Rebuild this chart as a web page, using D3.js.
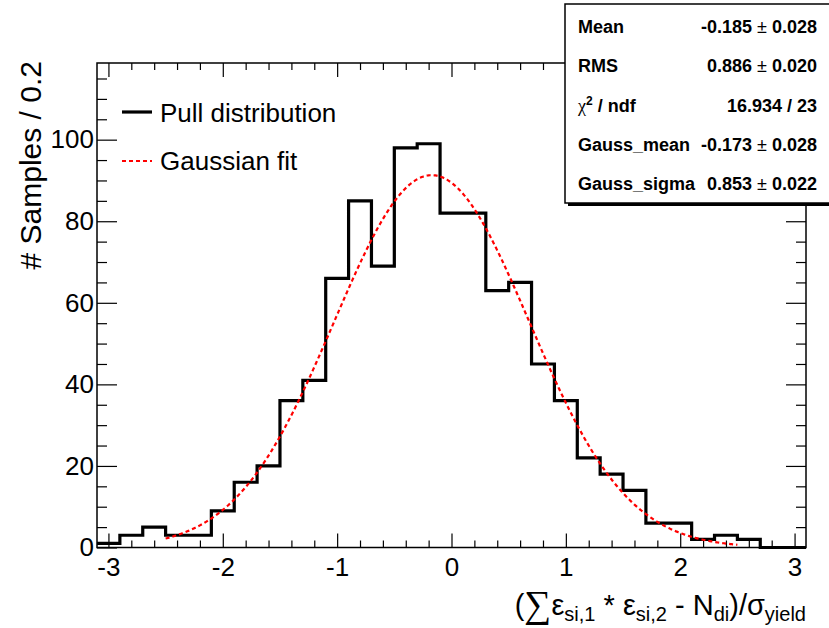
<!DOCTYPE html>
<html>
<head>
<meta charset="utf-8">
<script src="https://cdn.jsdelivr.net/npm/d3@7"></script>
<style>
  body { margin: 0; background: #fff; }
  svg { display: block; }
  text { font-family: "Liberation Sans", Arial, Helvetica, sans-serif; fill: #000; }
</style>
</head>
<body>
<svg id="chart" width="829" height="628"></svg>
<script>
// Pull distribution: bin centres (width 0.2) and counts per bin
const binCenters = [-3.0, -2.8, -2.6, -2.4, -2.2, -2.0, -1.8, -1.6, -1.4, -1.2, -1.0,
                    -0.8, -0.6, -0.4, -0.2, 0.0, 0.2, 0.4, 0.6, 0.8, 1.0, 1.2,
                    1.4, 1.6, 1.8, 2.0, 2.2, 2.4, 2.6, 2.8, 3.0];
const counts = [1, 3, 5, 3, 3, 9, 16, 20, 36, 41, 66,
                85, 69, 98, 99, 82, 82, 63, 65, 45, 36, 22,
                18, 14, 6, 6, 2, 3, 2, 0, 0];
const binWidth = 0.2;

// Axis ticks
const xTicks = [-3, -2, -1, 0, 1, 2, 3];
const yTicks = [0, 20, 40, 60, 80, 100];

// Statistics box
const statLabels = ["Mean", "RMS", "chi2", "Gauss_mean", "Gauss_sigma"];
const statValues = ["-0.185", "0.886", "16.934 / 23", "-0.173", "0.853"];
const statErrors = ["0.028", "0.020", null, "0.028", "0.022"];

// Gaussian fit parameters
const gaussConstant = 91.3;
const gaussMean = -0.173;
const gaussSigma = 0.853;
const fitRange = [-2.5, 2.5];

const svg = d3.select("#chart");
const frame = { left: 97, right: 806, top: 63, bottom: 547.5 };

const x = d3.scaleLinear().domain([-3.1, 3.1]).range([frame.left, frame.right]);
const y = d3.scaleLinear().domain([0, 118.8]).range([frame.bottom, frame.top]);

// Minor tick positions
const xMinor = d3.range(-30, 31, 2).map(v => v / 10).filter(v => !xTicks.includes(v));
const yMinor = d3.range(0, 119, 5).filter(v => !yTicks.includes(v));

function styleAxis(g) {
  g.select(".domain").remove();
  g.selectAll(".tick line").attr("stroke", "#000").attr("stroke-width", 1.2);
  g.selectAll(".tick text").attr("font-size", 26).attr("font-family", "\"Liberation Sans\", Arial, sans-serif");
}

// Bottom axis
svg.append("g").attr("transform", `translate(0,${frame.bottom})`)
  .call(d3.axisBottom(x).tickValues(xTicks).tickSizeInner(-14).tickSizeOuter(0).tickPadding(10).tickFormat(d => String(d)))
  .call(styleAxis);
svg.append("g").attr("transform", `translate(0,${frame.bottom})`)
  .call(d3.axisBottom(x).tickValues(xMinor).tickSizeInner(-7).tickSizeOuter(0).tickFormat(""))
  .call(styleAxis);
// Top axis
svg.append("g").attr("transform", `translate(0,${frame.top})`)
  .call(d3.axisTop(x).tickValues(xTicks).tickSizeInner(-14).tickSizeOuter(0).tickFormat(""))
  .call(styleAxis);
svg.append("g").attr("transform", `translate(0,${frame.top})`)
  .call(d3.axisTop(x).tickValues(xMinor).tickSizeInner(-7).tickSizeOuter(0).tickFormat(""))
  .call(styleAxis);
// Left axis
svg.append("g").attr("transform", `translate(${frame.left},0)`)
  .call(d3.axisLeft(y).tickValues(yTicks).tickSizeInner(-20).tickSizeOuter(0).tickPadding(3).tickFormat(d => String(d)))
  .call(styleAxis);
svg.append("g").attr("transform", `translate(${frame.left},0)`)
  .call(d3.axisLeft(y).tickValues(yMinor).tickSizeInner(-10).tickSizeOuter(0).tickFormat(""))
  .call(styleAxis);
// Right axis
svg.append("g").attr("transform", `translate(${frame.right},0)`)
  .call(d3.axisRight(y).tickValues(yTicks).tickSizeInner(-20).tickSizeOuter(0).tickFormat(""))
  .call(styleAxis);
svg.append("g").attr("transform", `translate(${frame.right},0)`)
  .call(d3.axisRight(y).tickValues(yMinor).tickSizeInner(-10).tickSizeOuter(0).tickFormat(""))
  .call(styleAxis);

// Frame
svg.append("rect")
  .attr("x", frame.left).attr("y", frame.top)
  .attr("width", frame.right - frame.left).attr("height", frame.bottom - frame.top)
  .attr("fill", "none").attr("stroke", "#000").attr("stroke-width", 1.5);

// Histogram outline
const histPath = d3.path();
binCenters.forEach((c, i) => {
  const x0 = x(c - binWidth / 2), x1 = x(c + binWidth / 2), yy = y(counts[i]);
  if (i === 0) histPath.moveTo(x0, yy); else histPath.lineTo(x0, yy);
  histPath.lineTo(x1, yy);
});
svg.append("path").attr("d", histPath.toString())
  .attr("fill", "none").attr("stroke", "#000").attr("stroke-width", 3.2)
  .attr("stroke-linejoin", "miter");

// Gaussian fit curve
const fitX = d3.range(fitRange[0], fitRange[1] + 1e-9, 0.01);
const gauss = v => gaussConstant * Math.exp(-0.5 * Math.pow((v - gaussMean) / gaussSigma, 2));
svg.append("path")
  .attr("d", d3.line().x(v => x(v)).y(v => y(gauss(v)))(fitX))
  .attr("fill", "none").attr("stroke", "#ff0000").attr("stroke-width", 2.2)
  .attr("stroke-dasharray", "4,3");

// Legend
const legend = svg.append("g");
legend.append("line").attr("x1", 122).attr("x2", 152).attr("y1", 112).attr("y2", 112)
  .attr("stroke", "#000").attr("stroke-width", 3.2);
legend.append("text").attr("x", 160).attr("y", 122).attr("font-size", 26).text("Pull distribution");
legend.append("line").attr("x1", 122).attr("x2", 152).attr("y1", 161).attr("y2", 161)
  .attr("stroke", "#ff0000").attr("stroke-width", 2.2).attr("stroke-dasharray", "4,3");
legend.append("text").attr("x", 160).attr("y", 170).attr("font-size", 26).text("Gaussian fit");

// Axis titles
svg.append("text")
  .attr("transform", "translate(41,61) rotate(-90)")
  .attr("text-anchor", "end").attr("font-size", 30)
  .text("# Samples / 0.2");

const xt = svg.append("text").attr("x", frame.right).attr("y", 615)
  .attr("text-anchor", "end").attr("font-size", 29);
xt.append("tspan").text("(");
xt.append("tspan").attr("font-family", "\"Liberation Serif\", \"DejaVu Serif\", serif")
  .attr("font-size", 38).attr("dy", 2).text("∑");
xt.append("tspan").attr("dy", -2).text("ε");
xt.append("tspan").attr("font-size", 20).attr("dy", 6).text("si,1");
xt.append("tspan").attr("dy", -6).text(" * ε");
xt.append("tspan").attr("font-size", 20).attr("dy", 6).text("si,2");
xt.append("tspan").attr("dy", -6).text(" - N");
xt.append("tspan").attr("font-size", 20).attr("dy", 6).text("di");
xt.append("tspan").attr("dy", -6).text(")/σ");
xt.append("tspan").attr("font-size", 20).attr("dy", 6).text("yield");

// Statistics box
const box = svg.append("g");
box.append("rect").attr("x", 568).attr("y", 7).attr("width", 280).attr("height", 199).attr("fill", "#000");
box.append("rect").attr("x", 565).attr("y", 4).attr("width", 280).attr("height", 199)
  .attr("fill", "#fff").attr("stroke", "#000").attr("stroke-width", 1.5);

const rowY = d3.scalePoint().domain(statLabels).range([33, 190]);
statLabels.forEach((lab, i) => {
  const ly = rowY(lab);
  const lt = box.append("text").attr("x", 578).attr("y", ly).attr("font-size", 18).attr("font-weight", "bold");
  if (lab === "chi2") {
    lt.append("tspan").attr("font-weight", "normal").attr("font-family", "\"Liberation Serif\", \"DejaVu Serif\", serif").text("χ");
    lt.append("tspan").attr("font-size", 12).attr("dy", -7).text("2");
    lt.append("tspan").attr("dy", 7).text(" / ndf");
  } else {
    lt.text(lab);
  }
  const vt = box.append("text").attr("x", 817).attr("y", ly).attr("font-size", 18)
    .attr("font-weight", "bold").attr("text-anchor", "end");
  vt.append("tspan").text(statValues[i]);
  if (statErrors[i] !== null) {
    vt.append("tspan").attr("font-weight", "normal").text(" ± ");
    vt.append("tspan").text(statErrors[i]);
  }
});
</script>
</body>
</html>
